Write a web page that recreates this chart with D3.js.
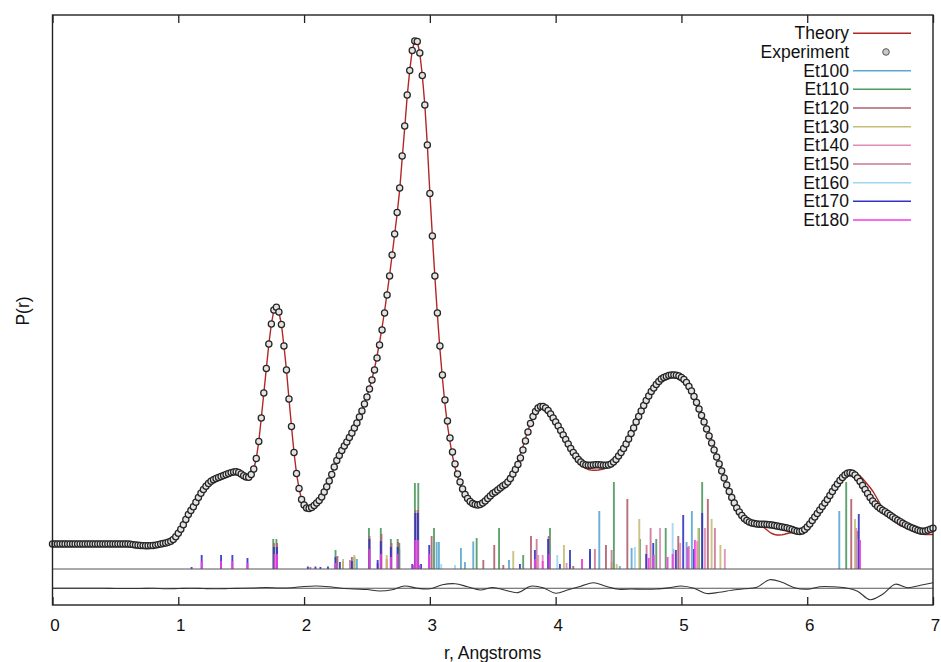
<!DOCTYPE html>
<html>
<head>
<meta charset="utf-8">
<script src="https://cdn.jsdelivr.net/npm/d3@7"></script>
<style>
  html, body { margin: 0; padding: 0; background: #fff; }
  svg { display: block; font-family: "Liberation Sans", Arial, Helvetica, sans-serif; }
</style>
</head>
<body>
<svg id="chart" width="941" height="662"></svg>
<script>
// ---- Data -------------------------------------------------------------
// Radial grid of the P(r) curves (Angstroms)
const rStart = 0, rStep = 0.02, rCount = 351;

// Experimental P(r), one value per grid point (r = 0.00 ... 7.00)
const experiment = [
  0,0,0,0,0,0,0,0,0,0,
  0,0,0,0,0,0,0,0,0,0,
  0,0,0,0,0,0,0,0,0,0,
  0,-0.06,-0.12,-0.18,-0.24,-0.28,-0.32,-0.34,-0.34,-0.32,
  -0.28,-0.22,-0.12,0,0.1,0.2,0.34,0.54,0.9,1.44,
  2.14,2.94,3.84,4.9,5.9,6.7,7.44,8.36,9.3,10.16,
  10.9,11.54,12.1,12.54,12.86,13.1,13.32,13.52,13.7,13.92,
  14.12,14.28,14.4,14.44,14.3,14.0,13.64,13.4,13.36,13.9,
  15.0,17.1,20.5,25.2,30.2,35.1,40.0,44.0,46.8,47.34,
  46.4,43.9,39.6,34.8,29.0,23.5,18.3,14.1,11.1,8.9,
  7.8,7.2,7.1,7.3,7.7,8.2,8.7,9.4,10.4,11.46,
  12.6,13.9,15.4,16.7,17.7,18.7,19.6,20.4,21.3,22.2,
  23.2,24.2,25.4,26.6,28.0,29.4,31.0,32.8,34.8,37.2,
  39.8,42.8,46.2,49.8,53.6,57.8,62.0,66.3,71.2,77.6,
  83.6,89.8,94.7,98.7,100.6,100.5,98.2,93.7,87.8,79.8,
  70.1,61.6,53.6,46.2,39.6,33.8,28.8,24.6,21.2,18.4,
  16.0,14.0,12.4,11.0,9.9,9.1,8.5,8.1,7.9,7.8,
  7.9,8.2,8.6,9.1,9.6,10.1,10.4,10.8,11.2,11.6,
  11.9,12.4,13.1,14.0,14.9,15.9,17.2,18.8,20.6,22.4,
  24.1,25.5,26.5,27.2,27.5,27.5,27.2,26.7,26.0,25.2,
  24.4,23.6,22.7,21.8,20.9,20.0,19.1,18.3,17.6,16.9,
  16.4,16.0,15.8,15.74,15.76,15.8,15.84,15.84,15.8,15.74,
  15.74,15.8,16.0,16.4,16.9,17.6,18.3,19.1,20.0,21.0,
  22.1,23.2,24.4,25.5,26.6,27.7,28.7,29.6,30.5,31.2,
  31.9,32.5,33.0,33.3,33.5,33.7,33.8,33.8,33.76,33.6,
  33.3,32.9,32.3,31.5,30.6,29.5,28.3,27.0,25.7,24.4,
  23.0,21.6,20.2,18.8,17.4,16.0,14.6,13.2,11.8,10.5,
  9.3,8.2,7.2,6.4,5.7,5.1,4.7,4.4,4.2,4.1,
  4.0,3.96,3.96,3.94,3.9,3.84,3.8,3.7,3.6,3.5,
  3.4,3.3,3.2,3.06,2.9,2.7,2.56,2.5,2.6,2.9,
  3.4,4.0,4.7,5.4,6.1,6.8,7.5,8.2,8.9,9.7,
  10.5,11.3,12.0,12.7,13.3,13.8,14.14,14.26,14.16,13.8,
  13.2,12.5,11.7,10.9,10.1,9.3,8.6,8.0,7.5,7.1,
  6.76,6.44,6.1,5.76,5.4,5.06,4.74,4.44,4.16,3.88,
  3.62,3.38,3.16,2.94,2.74,2.6,2.54,2.6,2.76,2.96,
  3.16
];

// Fitted (theory) P(r) on the same grid
const theory = [
  0,0,0,0,0,0,0,0,0,0,
  0,0,0,0,0,0,0,0,0,0,
  0,0,0,0,0,0,0,0,0,0,
  0,-0.06,-0.12,-0.18,-0.24,-0.28,-0.32,-0.34,-0.34,-0.32,
  -0.28,-0.22,-0.12,0,0.1,0.2,0.34,0.54,0.9,1.44,
  2.14,2.94,3.84,4.9,5.9,6.7,7.44,8.36,9.3,10.16,
  10.9,11.54,12.1,12.54,12.86,13.1,13.32,13.52,13.7,13.92,
  14.12,14.28,14.4,14.44,14.3,14.0,13.64,13.4,13.36,13.9,
  15.0,17.1,20.5,25.2,30.2,35.1,40.0,44.0,46.8,47.34,
  46.4,43.9,39.6,34.8,29.0,23.5,18.3,14.1,11.1,8.9,
  7.4,6.8,6.7,6.9,7.3,7.8,8.4,9.2,10.3,11.4,
  12.5,13.9,15.4,16.7,17.7,18.8,19.7,20.5,21.4,22.3,
  23.3,24.3,25.5,26.7,28.1,29.6,31.2,33.0,35.1,37.6,
  40.3,43.3,46.6,50.1,53.8,57.8,61.9,66.1,70.8,77.1,
  83.2,89.6,94.7,98.8,100.7,100.5,98.2,93.7,87.8,79.8,
  70.2,61.6,53.4,45.8,39.0,33.1,28.0,23.8,20.4,17.6,
  15.3,13.5,12.0,10.8,9.8,9.1,8.6,8.3,8.2,8.1,
  8.2,8.4,8.7,9.1,9.5,9.9,10.3,10.8,11.3,11.8,
  12.2,12.8,13.6,14.6,15.6,16.7,18.0,19.5,21.1,22.7,
  24.2,25.4,26.4,27.1,27.5,27.6,27.5,27.1,26.6,25.9,
  25.2,24.3,23.3,22.2,21.2,20.2,19.2,18.3,17.4,16.6,
  16.0,15.5,15.1,14.9,14.8,14.75,14.75,14.8,14.9,15.0,
  15.2,15.5,15.8,16.3,16.9,17.6,18.4,19.2,20.1,21.1,
  22.2,23.3,24.5,25.6,26.7,27.8,28.8,29.7,30.6,31.3,
  32.0,32.6,33.0,33.3,33.4,33.5,33.5,33.4,33.2,32.9,
  32.7,32.4,31.9,31.3,30.5,29.6,28.5,27.3,26.1,24.9,
  23.6,22.3,20.9,19.4,17.9,16.4,14.9,13.4,11.9,10.6,
  9.4,8.3,7.3,6.5,5.8,5.2,4.8,4.5,4.3,4.1,
  3.9,3.7,3.5,3.2,2.8,2.4,2.1,1.9,1.8,1.8,
  1.85,1.95,2.1,2.2,2.3,2.4,2.45,2.5,2.6,2.9,
  3.5,4.1,4.8,5.4,6.0,6.7,7.4,8.1,8.8,9.6,
  10.4,11.2,11.9,12.6,13.2,13.7,14.1,14.3,14.4,14.3,
  14.0,13.6,13.1,12.5,11.9,11.3,10.6,9.8,8.9,8.0,
  7.2,6.5,5.9,5.4,4.9,4.4,4.0,3.7,3.5,3.3,
  3.2,3.0,2.75,2.5,2.25,2.05,1.95,1.9,1.9,1.9,
  1.9
];

// Difference curve (experiment - theory), r = 0.0 ... 7.0 in steps of 0.1
const residStep = 0.1;
const residual = [
  0,0,0,0,0,-0.06,-0.06,-0.06,0,-0.1,
  -0.06,0,-0.06,-0.1,-0.06,0,0.06,0.16,0.06,0.1,
  0.36,0.46,0.3,0,-0.16,-0.26,-0.56,-0.3,0.46,0,
  -0.1,0.7,0.9,0.3,-0.34,0.16,-0.4,-0.88,0.4,0.1,
  -1.0,-0.3,0.4,1.1,0.4,-0.2,-0.16,-0.2,-0.16,0.1,
  0.46,0,-1.06,-0.8,-0.4,-0.1,0.2,1.7,1.2,0.1,
  -0.2,0.3,0.3,0.1,-0.6,-2.3,-1.2,0.8,0.1,0.6,
  1.1
];

// Distance sticks [r, weight] for each conformer
const et100 = [[2.42,2.0],[2.757,4.0],[3.054,5.4],[3.072,5.4],[3.247,4.2],[3.279,1.4],[3.345,5.5],
  [3.629,1.8],[4.273,3.6],[4.347,11.6],[4.51,0.6],[4.604,4.2],[5.041,5.4],[5.083,11.6],[6.255,11.6]];
const et110 = [[1.755,6.0],[1.78,6.0],[2.25,3.8],[2.40,2.4],[2.516,8.2],[2.61,8.2],[2.69,6.0],[2.744,6.0],
  [2.757,5.2],[2.881,17.2],[2.908,17.2],[3.033,8.2],[3.372,6.2],[3.55,8.2],[3.742,2.8],[3.955,8.2],
  [4.463,17.4],[4.67,6.0],[4.80,6.0],[4.875,8.2],[5.139,8.2],[5.165,17.4],[6.31,17.4]];
const et120 = [[1.76,5.2],[1.785,5.2],[2.265,2.6],[2.31,1.6],[2.38,2.4],[2.52,6.6],[2.585,1.2],[2.615,7.0],
  [2.657,2.0],[2.695,5.2],[2.748,5.4],[2.885,11.8],[2.905,11.8],[3.014,6.6],[3.425,1.8],[3.512,4.8],
  [3.584,0.8],[3.804,6.6],[3.945,6.6],[4.14,0.6],[4.40,4.8],[4.57,14.0],[4.975,6.6],[5.21,14.0],[6.35,14.0]];
const et130 = [[2.31,2.0],[2.40,2.8],[2.657,2.8],[3.663,3.6],[4.066,4.8],[4.445,1.4],[4.485,1.0],
  [4.665,10.0],[5.135,8.2],[5.24,10.0],[5.31,4.8],[6.38,10.0]];
const et140 = [[3.862,2.8],[3.897,2.8],[4.087,1.2],[4.21,2.0],[4.83,8.2],[4.99,5.2],[5.06,4.6],
  [5.125,5.6],[5.187,8.2],[5.345,4.0],[6.39,8.2]];
const et150 = [[2.365,1.8],[3.849,6.0],[4.312,4.0],[4.445,3.8],[4.723,4.8],[4.755,8.2],[4.935,4.0],
  [5.266,8.2],[6.40,7.6]];
const et160 = [[3.09,1.0],[3.2,0.8],[4.013,2.8],[4.63,4.4],[4.93,9.2],[6.405,6.0]];
const et170 = [[1.106,0.4],[1.186,2.8],[1.34,2.8],[1.43,2.8],[1.55,2.2],[1.76,4.4],[1.785,4.4],
  [2.03,0.5],[2.09,0.5],[2.13,0.4],[2.19,0.5],[2.25,2.4],[2.285,1.4],[2.38,1.6],[2.52,6.0],[2.585,1.8],
  [2.61,5.6],[2.69,4.4],[2.744,4.4],[2.86,1.0],[2.885,11.2],[2.905,11.2],[2.93,1.0],[2.995,4.8],
  [3.716,1.0],[3.835,3.8],[3.94,6.0],[4.034,1.0],[4.114,3.8],[4.273,4.0],[4.72,3.0],[4.776,5.2],
  [4.956,3.8],[5.014,10.8],[5.10,4.0],[5.165,11.2],[6.41,11.0]];
const et180 = [[1.186,1.6],[1.34,1.6],[1.43,1.6],[1.55,1.2],[1.765,3.0],[1.785,3.0],[2.05,0.4],
  [2.25,1.2],[2.52,4.0],[2.61,3.0],[2.69,2.4],[2.744,3.0],[2.87,0.8],[2.885,5.8],[2.905,5.8],[2.92,0.8],
  [2.995,3.0],[3.835,2.0],[3.897,1.6],[3.95,3.0],[4.21,2.0],[4.74,2.2],[4.78,2.8],[4.89,2.4],[4.93,3.0],
  [5.05,4.4],[5.107,5.8],[6.42,5.8]];

const seriesNames = ["Et100","Et110","Et120","Et130","Et140","Et150","Et160","Et170","Et180"];
const seriesSticks = [et100, et110, et120, et130, et140, et150, et160, et170, et180];
const xTicks = [0, 1, 2, 3, 4, 5, 6, 7];

// ---- Styling ----------------------------------------------------------
const seriesColors = ["#5aa8d4","#4f9a60","#b0606e","#c6bd78","#e08cb6","#c97896","#9fd6ee","#3333c8","#f23ee2"];
const theoryColor = "#b32626";
const stickBase = -5;        // level of the stick baseline
const residBase = -8.85;     // level of the difference-curve baseline

// ---- Layout -----------------------------------------------------------
const svg = d3.select("#chart");
const x = d3.scaleLinear().domain([0, 7]).range([52.5, 933]);
const y = d3.scaleLinear().domain([-12.2, 105.8]).range([605, 15]);

const grid = d3.range(rCount).map(i => rStart + i * rStep);
const expPts = grid.map((r, i) => [r, experiment[i]]);
const thPts = grid.map((r, i) => [r, theory[i]]);
const resPts = residual.map((v, i) => [i * residStep, v]);

// Sticks
seriesSticks.forEach((sticks, k) => {
  svg.append("g").attr("class", "sticks")
    .selectAll("line").data(sticks).join("line")
    .attr("x1", d => x(d[0])).attr("x2", d => x(d[0]))
    .attr("y1", y(stickBase)).attr("y2", d => y(stickBase + d[1]))
    .attr("stroke", seriesColors[k]).attr("stroke-width", 1.9).attr("opacity", 0.9);
});

// Baselines for sticks and difference curve
[stickBase, residBase].forEach(b => {
  svg.append("line").attr("x1", x(0)).attr("x2", x(7)).attr("y1", y(b)).attr("y2", y(b))
    .attr("stroke", "#555").attr("stroke-width", 1);
});

// Difference curve
svg.append("path").datum(resPts)
  .attr("fill", "none").attr("stroke", "#333").attr("stroke-width", 1.1)
  .attr("d", d3.line().x(d => x(d[0])).y(d => y(residBase + d[1])).curve(d3.curveCatmullRom));

// Theory line
svg.append("path").datum(thPts)
  .attr("fill", "none").attr("stroke", theoryColor).attr("stroke-width", 1.4)
  .attr("d", d3.line().x(d => x(d[0])).y(d => y(d[1])));

// Experimental points
svg.append("g").selectAll("circle").data(expPts).join("circle")
  .attr("cx", d => x(d[0])).attr("cy", d => y(d[1])).attr("r", 3.1)
  .attr("fill", "#e4e4e4").attr("stroke", "#262626").attr("stroke-width", 1.25);

// Axes (ticks point inward, mirrored on top)
const bottomAxis = svg.append("g").attr("transform", "translate(0,605)")
  .call(d3.axisBottom(x).tickValues(xTicks).tickSize(-8).tickPadding(14).tickFormat(d3.format("d")));
bottomAxis.select(".domain").remove();
bottomAxis.selectAll(".tick line").attr("stroke", "#222").attr("stroke-width", 1.3);
bottomAxis.selectAll(".tick text").attr("font-size", 17).attr("fill", "#111")
  .attr("font-family", "Liberation Sans, Arial, sans-serif").attr("dx", 2);

const topAxis = svg.append("g").attr("transform", "translate(0,15)")
  .call(d3.axisTop(x).tickValues(xTicks).tickSize(-8).tickFormat(""));
topAxis.select(".domain").remove();
topAxis.selectAll(".tick line").attr("stroke", "#222").attr("stroke-width", 1.3);

// Frame
svg.append("rect").attr("x", 52.5).attr("y", 15).attr("width", 933 - 52.5).attr("height", 590)
  .attr("fill", "none").attr("stroke", "#222").attr("stroke-width", 1.4);

// Axis titles
svg.append("text").attr("x", (52.5 + 933) / 2).attr("y", 659).attr("text-anchor", "middle")
  .attr("font-size", 17.5).attr("fill", "#111").text("r, Angstroms");
svg.append("text").attr("transform", "translate(29,311) rotate(-90)").attr("text-anchor", "middle")
  .attr("font-size", 17.5).attr("fill", "#111").text("P(r)");

// Legend
const legendItems = [{ name: "Theory", kind: "line", color: theoryColor },
  { name: "Experiment", kind: "point" }]
  .concat(seriesNames.map((n, k) => ({ name: n, kind: "line", color: seriesColors[k] })));
const lg = svg.append("g").selectAll("g").data(legendItems).join("g")
  .attr("transform", (d, i) => `translate(0,${33.3 + i * 18.67})`);
lg.append("text").attr("x", 849).attr("y", 6).attr("text-anchor", "end")
  .attr("font-size", 17.5).attr("fill", "#111").text(d => d.name);
lg.filter(d => d.kind === "line").append("line")
  .attr("x1", 853).attr("x2", 911).attr("y1", 0).attr("y2", 0)
  .attr("stroke", d => d.color).attr("stroke-width", 1.5);
lg.filter(d => d.kind === "point").append("circle")
  .attr("cx", 886).attr("cy", 0).attr("r", 3.3)
  .attr("fill", "#c8c8c8").attr("stroke", "#555").attr("stroke-width", 1);
</script>
</body>
</html>
